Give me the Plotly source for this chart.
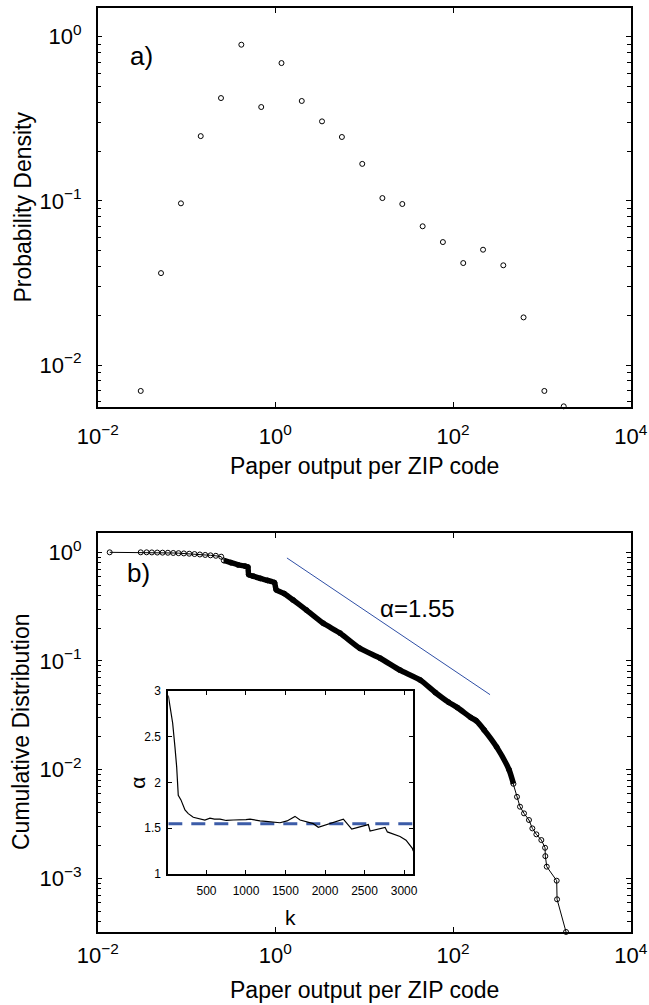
import plotly.graph_objects as go

# ---------------- data ----------------
# panel a) probability density, log-binned
pdf_x = [0.0305, 0.0516, 0.0865, 0.1445, 0.2443, 0.414, 0.693, 1.172, 1.982, 3.350,
         5.61, 9.51, 16.03, 26.85, 45.5, 76.9, 130.3, 217.8, 368, 622, 1067, 1762]
pdf_y = [0.00695, 0.0363, 0.0966, 0.248, 0.423, 0.894, 0.373, 0.691, 0.406, 0.305,
         0.245, 0.168, 0.104, 0.0957, 0.070, 0.0561, 0.0418, 0.0504, 0.0405, 0.0195,
         0.00695, 0.00560]

# panel b) cumulative distribution
cdf_x = [0.01365, 0.0305, 0.0355, 0.0407, 0.0468, 0.0537, 0.0617, 0.0708, 0.0813, 0.0933,
         0.1072, 0.1230, 0.1413, 0.1622, 0.1862, 0.2138, 0.2455, 0.263, 0.316, 0.380,
         0.457, 0.490, 0.501, 0.562, 0.676, 0.813, 0.977, 1.023, 1.259, 1.585,
         2.239, 3.467, 5.370, 8.913, 15.14, 25.12, 42.66, 63.1, 89.1, 112.2,
         158.5, 182.0, 223.9, 309.0, 426.6, 478.6, 524.8, 567.5, 629.5, 716.1,
         781.6, 867.0, 986.2, 1086, 1094, 1135, 1469, 1483, 1871]
cdf_y = [1.0, 1.0, 1.0, 0.998, 0.995, 0.993, 0.991, 0.986, 0.982, 0.977,
         0.971, 0.964, 0.955, 0.946, 0.938, 0.929, 0.912, 0.841, 0.804, 0.767,
         0.745, 0.733, 0.624, 0.603, 0.575, 0.552, 0.525, 0.452, 0.417, 0.364,
         0.294, 0.222, 0.180, 0.131, 0.106, 0.0826, 0.0668, 0.0513, 0.0417, 0.0372,
         0.0302, 0.0282, 0.0232, 0.0162, 0.0100, 0.00741, 0.00562, 0.00456, 0.00396, 0.00344,
         0.00288, 0.00254, 0.00225, 0.00191, 0.00160, 0.00128, 0.000951, 0.000641, 0.000321]
band_start, band_end = 17, 45   # dense (overlapping-marker) part of the curve

# power-law guide, alpha = 1.55
fit_x = [1.35, 261]
fit_y = [0.887, 0.049]
alpha_text = "α=1.55"

# inset: alpha estimate vs k
k_vals = [17, 25, 47, 72, 101, 123, 143, 177, 228, 270, 333, 418, 480, 544, 600, 671,
          750, 839, 950, 1000, 1051, 1100, 1177, 1250, 1304, 1380, 1430, 1520, 1620, 1684,
          1852, 1915, 2232, 2338, 2548, 2570, 2760, 2789, 2844, 2949, 3025, 3076, 3105, 3117]
alpha_vals = [2.95, 2.90, 2.81, 2.65, 2.39, 2.17, 1.86, 1.81, 1.70, 1.66, 1.62, 1.60, 1.59, 1.61, 1.60, 1.60,
              1.585, 1.59, 1.59, 1.595, 1.60, 1.59, 1.58, 1.575, 1.57, 1.565, 1.56, 1.58, 1.63, 1.59,
              1.55, 1.51, 1.60, 1.49, 1.54, 1.47, 1.51, 1.46, 1.44, 1.41, 1.37, 1.32, 1.28, 1.25]
alpha_fit = 1.55
k_range = [17, 3117]

log_tickvals_x = [0.01, 1, 100, 10000]
log_ticktext_x = ["10<sup>−2</sup>", "10<sup>0</sup>", "10<sup>2</sup>", "10<sup>4</sup>"]
top_y_tickvals = [0.01, 0.1, 1]
top_y_ticktext = ["10<sup>−2</sup>", "10<sup>−1</sup>", "10<sup>0</sup>"]
bot_y_tickvals = [0.001, 0.01, 0.1, 1]
bot_y_ticktext = ["10<sup>−3</sup>", "10<sup>−2</sup>", "10<sup>−1</sup>", "10<sup>0</sup>"]
inset_xticks = [500, 1000, 1500, 2000, 2500, 3000]
inset_yticks = [1, 1.5, 2, 2.5, 3]
inset_yticktext = ["1", "1.5", "2", "2.5", "3"]

xlabel = "Paper output per ZIP code"
ylabel_a = "Probability Density"
ylabel_b = "Cumulative Distribution"

# ---------------- figure ----------------
W, H = 649, 1005
FONT = "Liberation Sans, Arial, Helvetica, sans-serif"
BLUE = "#2f4fa6"


def px(x):
    return x / W


def py(y):
    return 1 - y / H


minor_top = [m * d for d in (0.001, 0.01, 0.1) for m in range(2, 10)]
minor_bot = [m * d for d in (0.0001, 0.001, 0.01, 0.1) for m in range(2, 10)]

fig = go.Figure()

fig.add_trace(go.Scatter(
    x=pdf_x, y=pdf_y, mode="markers", xaxis="x", yaxis="y",
    marker=dict(symbol="circle-open", size=5, color="black", line=dict(width=1)),
    cliponaxis=False, showlegend=False))

# dense part drawn as a heavy stroke (overlapping markers in the original)
fig.add_trace(go.Scatter(
    x=cdf_x[band_start:band_end + 1], y=cdf_y[band_start:band_end + 1], mode="lines",
    xaxis="x2", yaxis="y2", line=dict(color="black", width=5.5, shape="spline", smoothing=0.6),
    showlegend=False))
fig.add_trace(go.Scatter(
    x=cdf_x, y=cdf_y, mode="lines+markers", xaxis="x2", yaxis="y2",
    line=dict(color="black", width=1),
    marker=dict(symbol="circle-open", size=5, color="black", line=dict(width=1)),
    cliponaxis=False, showlegend=False))
fig.add_trace(go.Scatter(
    x=fit_x, y=fit_y, mode="lines", xaxis="x2", yaxis="y2",
    line=dict(color=BLUE, width=1), showlegend=False))

fig.add_trace(go.Scatter(
    x=k_range, y=[alpha_fit, alpha_fit], mode="lines", xaxis="x3", yaxis="y3",
    line=dict(color="#3c5ca8", width=3, dash="14px,9px"), showlegend=False))
fig.add_trace(go.Scatter(
    x=k_vals, y=alpha_vals, mode="lines", xaxis="x3", yaxis="y3",
    line=dict(color="black", width=1.2), showlegend=False))

axis_common = dict(showline=True, linecolor="black", linewidth=1.5, mirror="ticks",
                   ticks="inside", ticklen=5, tickwidth=1, tickcolor="black",
                   showgrid=False, zeroline=False, automargin=False, layer="below traces",
                   tickfont=dict(family=FONT, size=22, color="black"))

xdom = [px(97.7), px(630.7)]
fig.update_layout(
    width=W, height=H,
    margin=dict(l=0, r=0, t=0, b=0, pad=0),
    paper_bgcolor="white", plot_bgcolor="white",
    font=dict(family=FONT, color="black"),
    xaxis=dict(axis_common, type="log", domain=xdom, anchor="y", range=[-2, 4],
               tickmode="array", tickvals=log_tickvals_x, ticktext=log_ticktext_x,
               ticklabelstandoff=9),
    yaxis=dict(axis_common, type="log", domain=[py(406.7), py(8)], anchor="x",
               range=[-2.254, 0.175], tickmode="array", tickvals=top_y_tickvals,
               ticktext=top_y_ticktext, ticklabelstandoff=10,
               minor=dict(tickmode="array", tickvals=minor_top, ticks="inside",
                          ticklen=4, tickwidth=1, tickcolor="black", showgrid=False)),
    xaxis2=dict(axis_common, type="log", domain=xdom, anchor="y2", range=[-2, 4],
                tickmode="array", tickvals=log_tickvals_x, ticktext=log_ticktext_x,
                ticklabelstandoff=3),
    yaxis2=dict(axis_common, type="log", domain=[py(932), py(533.3)], anchor="x2",
                range=[-3.494, 0.175], tickmode="array", tickvals=bot_y_tickvals,
                ticktext=bot_y_ticktext, ticklabelstandoff=10,
                minor=dict(tickmode="array", tickvals=minor_bot, ticks="inside",
                           ticklen=4, tickwidth=1, tickcolor="black", showgrid=False)),
    xaxis3=dict(axis_common, domain=[px(168.3), px(413.3)], anchor="y3", range=k_range,
                tickmode="array", tickvals=inset_xticks, linewidth=1.8, ticklen=4,
                tickfont=dict(family=FONT, size=12, color="black"), ticklabelstandoff=5),
    yaxis3=dict(axis_common, domain=[py(874), py(691)], anchor="x3", range=[1, 3],
                tickmode="array", tickvals=inset_yticks, ticktext=inset_yticktext,
                linewidth=1.8, ticklen=4,
                tickfont=dict(family=FONT, size=12, color="black"), ticklabelstandoff=3),
)

ann = [
    dict(text="a)", x=px(141.7), y=py(56), size=26),
    dict(text="b)", x=px(138), y=py(573), size=26),
    dict(text=alpha_text, x=px(417.5), y=py(608), size=24),
    dict(text=xlabel, x=px(364.2), y=py(466), size=23),
    dict(text=xlabel, x=px(364.2), y=py(990), size=23),
    dict(text=ylabel_a, x=px(22.5), y=py(207), size=23, angle=-90),
    dict(text=ylabel_b, x=px(21), y=py(732), size=23, angle=-90),
    dict(text="k", x=px(290), y=py(917), size=21),
    dict(text="α", x=px(136.7), y=py(783), size=21, angle=-90),
]
for a in ann:
    fig.add_annotation(text=a["text"], x=a["x"], y=a["y"], xref="paper", yref="paper",
                       xanchor="center", yanchor="middle", showarrow=False,
                       textangle=a.get("angle", 0),
                       font=dict(family=FONT, size=a["size"], color="black"))

# drop the page's default body margin so the 649x1005 figure fills the window exactly
fig.write_html("out.html", config={"displayModeBar": False},
               post_script="document.body.style.margin='0';document.body.style.overflow='hidden';")
